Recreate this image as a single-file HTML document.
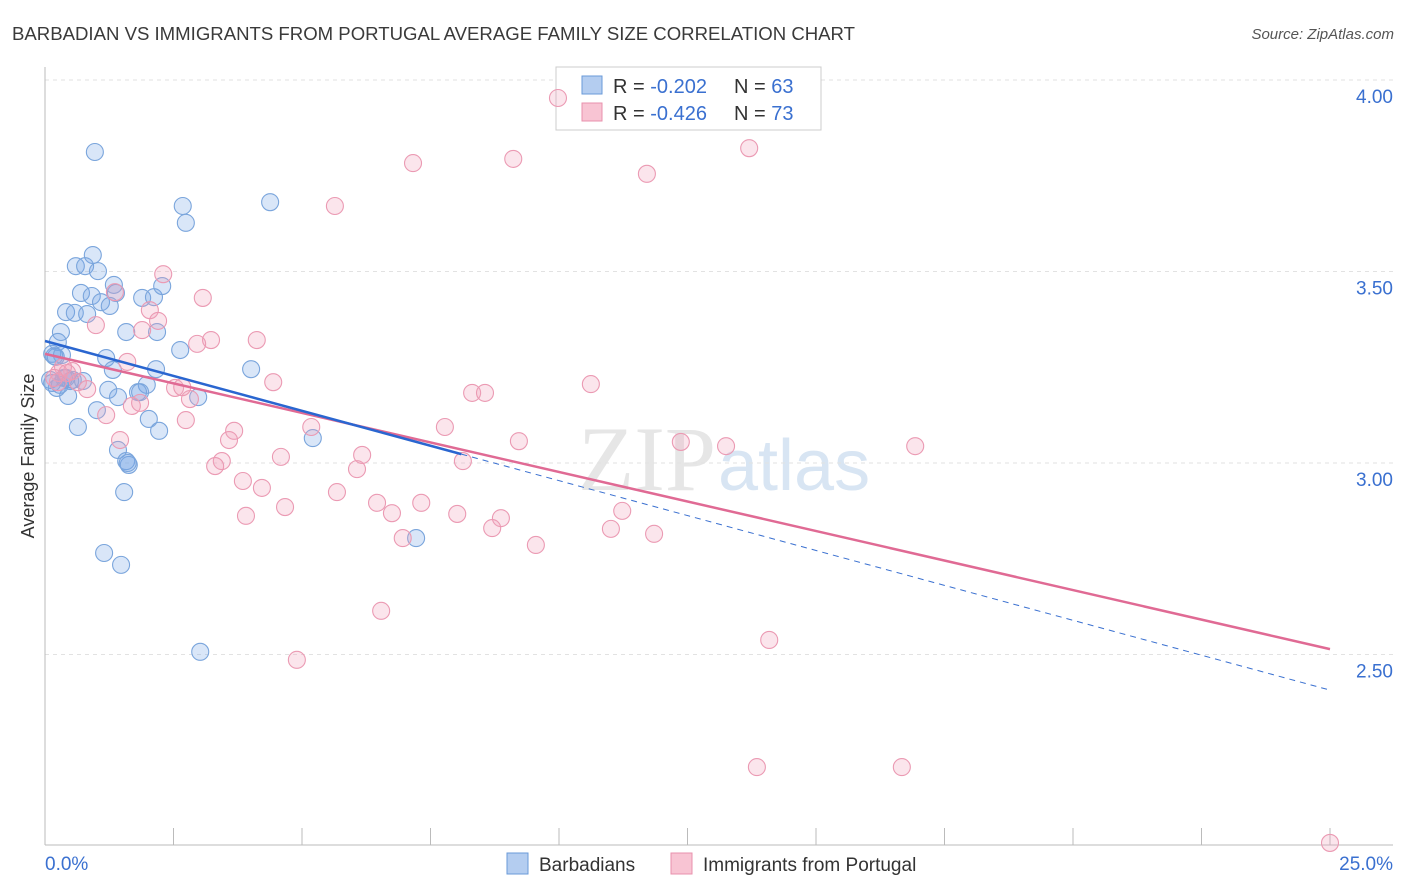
<!DOCTYPE html>
<html><head><meta charset="utf-8"><style>
body{margin:0;background:#fff;font-family:"Liberation Sans",sans-serif;}
#c{position:relative;width:1406px;height:892px;overflow:hidden}
</style></head><body>
<div id="c">
<svg id="s" width="1406" height="892" xmlns="http://www.w3.org/2000/svg">
<text x="12" y="40" font-size="18.6" fill="#3a3a3a" textLength="843">BARBADIAN VS IMMIGRANTS FROM PORTUGAL AVERAGE FAMILY SIZE CORRELATION CHART</text>
<text x="1394" y="39" font-size="15" fill="#555" font-style="italic" text-anchor="end">Source: ZipAtlas.com</text>
<text x="716" y="490" font-size="92" fill="#e6e6e6" text-anchor="end" font-family="Liberation Serif,serif">ZIP</text>
<text x="718" y="490" font-size="72" fill="#d8e5f3">atlas</text>
<text transform="translate(34,456) rotate(-90)" font-size="18" fill="#333" text-anchor="middle">Average Family Size</text>
<g id="grid"></g>
<rect x="556" y="67" width="265" height="63" fill="#fff" stroke="#ccc"/>
<rect x="582" y="76" width="20" height="18" fill="#b4cdf0" stroke="#6a9ad8"/>
<rect x="582" y="103" width="20" height="18" fill="#f8c4d3" stroke="#e891ac"/>
<text x="613" y="93" font-size="20" fill="#333">R = <tspan fill="#3a70d0">-0.202</tspan></text>
<text x="734" y="93" font-size="20" fill="#333">N = <tspan fill="#3a70d0">63</tspan></text>
<text x="613" y="120" font-size="20" fill="#333">R = <tspan fill="#3a70d0">-0.426</tspan></text>
<text x="734" y="120" font-size="20" fill="#333">N = <tspan fill="#3a70d0">73</tspan></text>
<g id="marks"></g><g id="trend"></g>
<rect x="507" y="853" width="21" height="21" fill="#b4cdf0" stroke="#6a9ad8"/>
<text x="539" y="871" font-size="19" fill="#333">Barbadians</text>
<rect x="671" y="853" width="21" height="21" fill="#f8c4d3" stroke="#e891ac"/>
<text x="703" y="871" font-size="19" fill="#333">Immigrants from Portugal</text>
<text x="45" y="870" font-size="19" fill="#3a70d0">0.0%</text>
<text x="1393" y="870" font-size="19" fill="#3a70d0" text-anchor="end">25.0%</text>
</svg></div>
<script>
const yTicks=[2.5,3.0,3.5,4.0];
const yTickLabels=["2.50","3.00","3.50","4.00"];
const xTicks=[0,2.5,5,7.5,10,12.5,15,17.5,20,22.5,25];
const blueX=[0.97,2.68,2.74,4.38,0.93,0.60,0.78,1.03,1.34,0.70,0.91,1.38,1.09,1.26,1.89,2.12,2.28,0.41,0.58,0.82,1.58,2.18,0.31,0.25,0.14,0.21,1.19,2.63,1.32,2.16,4.01,0.41,0.49,0.29,0.14,1.98,1.23,1.42,1.81,0.45,2.98,1.01,2.02,2.22,0.64,5.21,1.42,1.58,1.63,1.54,1.15,1.48,7.22,3.02,0.18,0.10,0.54,0.23,1.61,0.33,0.74,1.85,0.37];
const blueY=[3.812,3.671,3.627,3.681,3.543,3.514,3.514,3.501,3.465,3.444,3.436,3.444,3.420,3.410,3.431,3.433,3.462,3.394,3.392,3.389,3.342,3.342,3.342,3.316,3.285,3.277,3.274,3.295,3.243,3.245,3.245,3.222,3.214,3.204,3.209,3.204,3.191,3.172,3.185,3.175,3.172,3.138,3.115,3.084,3.094,3.065,3.034,3.005,2.995,2.924,2.765,2.734,2.804,2.507,3.279,3.217,3.217,3.196,3.000,3.282,3.214,3.185,3.222];
const pinkX=[9.98,7.16,9.11,11.71,13.70,5.64,2.30,3.07,1.36,2.04,2.20,0.99,1.89,3.23,4.12,2.96,1.60,2.53,4.44,2.82,2.67,10.62,8.31,8.56,0.53,0.35,0.27,0.64,0.82,1.19,1.69,1.85,2.74,1.46,3.68,3.58,5.18,7.78,9.22,12.37,13.25,16.93,6.17,4.59,3.44,3.31,8.13,6.07,3.85,4.22,5.68,6.46,7.32,6.75,4.67,3.91,8.02,8.87,8.70,11.01,11.23,11.85,6.96,9.55,6.54,4.90,14.09,13.85,16.67,25.0,0.25,0.43,0.18];
const pinkY=[3.953,3.783,3.794,3.755,3.822,3.671,3.493,3.431,3.446,3.399,3.371,3.360,3.347,3.321,3.321,3.311,3.264,3.196,3.211,3.167,3.198,3.206,3.183,3.183,3.240,3.251,3.235,3.211,3.193,3.125,3.149,3.157,3.112,3.060,3.084,3.060,3.094,3.094,3.057,3.055,3.044,3.044,3.021,3.016,3.005,2.992,3.005,2.984,2.953,2.935,2.924,2.896,2.896,2.869,2.885,2.862,2.867,2.856,2.830,2.828,2.875,2.815,2.804,2.786,2.614,2.486,2.538,2.206,2.206,2.008,3.211,3.235,3.222];
const blueTrend=[3.3185,2.407];   // y at x=0 and x=25
const blueSolidEnd=8.1;
const pinkTrend=[3.285,2.514];

const NS="http://www.w3.org/2000/svg";
const X=v=>45+v/25*1285;
const Y=v=>463-(v-3)*383;
function mk(tag,a,parent){const e=document.createElementNS(NS,tag);for(const k in a)e.setAttribute(k,a[k]);parent.appendChild(e);return e;}
const grid=document.getElementById('grid'),marks=document.getElementById('marks'),trend=document.getElementById('trend');

yTicks.forEach((t,i)=>{
 const l=mk('line',{x1:45,x2:1393,y1:Y(t),y2:Y(t),stroke:'#e2e2e2','stroke-dasharray':'4,4'},grid);
 
 
 const tx=mk('text',{x:1393,y:Y(t)+23,'font-size':19,fill:'#3a70d0','text-anchor':'end'},grid);
 tx.textContent=yTickLabels[i];
 
 
});
const ax=mk('line',{x1:45,x2:1393,y1:845,y2:845,stroke:'#bbb'},grid);


const ay=mk('line',{x1:45,x2:45,y1:67,y2:845,stroke:'#bbb'},grid);


xTicks.forEach(t=>{
 const l=mk('line',{x1:X(t),x2:X(t),y1:828,y2:845,stroke:'#bbb'},grid);
 
 
});
function dots(xs,ys,fill,stroke,name){
 xs.forEach((x,i)=>{
  const c=mk('circle',{cx:X(x),cy:Y(ys[i]),r:8.5,fill:fill,stroke:stroke,'stroke-width':1.1},marks);
  
  
 });
}
dots(blueX,blueY,'rgba(120,165,230,0.28)','#7aa5dc','barbadian-point');
dots(pinkX,pinkY,'rgba(242,160,188,0.28)','#eb9ab3','portugal-point');
const by=x=>blueTrend[0]+(blueTrend[1]-blueTrend[0])*x/25;
const py=x=>pinkTrend[0]+(pinkTrend[1]-pinkTrend[0])*x/25;
const bd=mk('line',{x1:X(blueSolidEnd),y1:Y(by(blueSolidEnd)),x2:X(25),y2:Y(by(25)),stroke:'#3a70d0','stroke-width':1,'stroke-dasharray':'6,5'},trend);


const pl=mk('line',{x1:X(0),y1:Y(py(0)),x2:X(25),y2:Y(py(25)),stroke:'#e06a94','stroke-width':2.5},trend);


const bl=mk('line',{x1:X(0),y1:Y(by(0)),x2:X(blueSolidEnd),y2:Y(by(blueSolidEnd)),stroke:'#2a66d0','stroke-width':2.5},trend);


</script>
</body></html>
